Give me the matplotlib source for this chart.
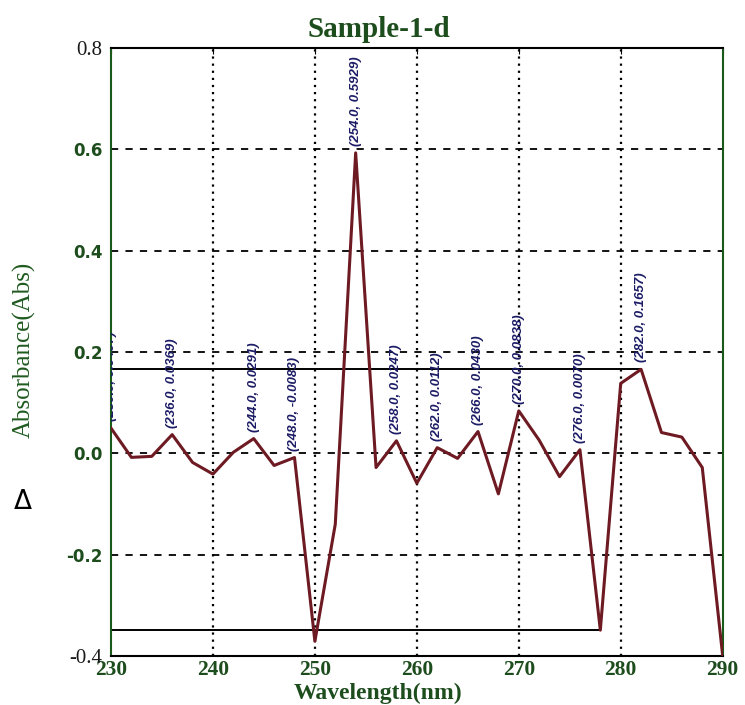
import matplotlib
matplotlib.use("Agg")
import matplotlib.pyplot as plt

wavelength = [230, 232, 234, 236, 238, 240, 242, 244, 246, 248, 250, 252, 254, 256, 258, 260,
              262, 264, 266, 268, 270, 272, 274, 276, 278, 280, 282, 284, 286, 288, 290]
absorbance = [0.0497, -0.008, -0.006, 0.0369, -0.018, -0.041, 0.002, 0.0291, -0.024, -0.0083,
              -0.371, -0.14, 0.5929, -0.028, 0.0247, -0.059, 0.0112, -0.010, 0.0430, -0.080,
              0.0838, 0.026, -0.046, 0.0070, -0.349, 0.138, 0.1657, 0.041, 0.032, -0.028, -0.399]
peak_x = [230, 236, 244, 248, 254, 258, 262, 266, 270, 276, 282]
peak_labels = ["(230.0, 0.0497)", "(236.0, 0.0369)", "(244.0, 0.0291)", "(248.0, -0.0083)",
               "(254.0, 0.5929)", "(258.0, 0.0247)", "(262.0, 0.0112)", "(266.0, 0.0430)",
               "(270.0, 0.0838)", "(276.0, 0.0070)", "(282.0, 0.1657)"]
hline_max = (0.1657, 230, 282)
hline_min = (-0.349, 230, 278)
xticks = [230, 240, 250, 260, 270, 280, 290]
yticks = [-0.4, -0.2, 0.0, 0.2, 0.4, 0.6, 0.8]
ytick_labels = ["-0.4", "-0.2", "0.0", "0.2", "0.4", "0.6", "0.8"]

green = "#1d4d1d"
navy = "#1c1c66"
maroon = "#6e1a22"

fig = plt.figure(figsize=(7.45, 7.05), dpi=100)
ax = fig.add_axes([0.149, 0.0695, 0.821, 0.8625])
ax.set_xlim(230, 290)
ax.set_ylim(-0.4, 0.8)

# grid
for yv in [-0.2, 0.0, 0.2, 0.4, 0.6]:
    ax.axhline(yv, color="black", lw=1.3, ls=(0, (4, 4)), zorder=1)
for xv in [240, 250, 260, 270, 280]:
    ax.axvline(xv, color="black", lw=1.6, ls=(0, (1, 2.2)), zorder=1)

# horizontal markers
ax.hlines(hline_max[0], hline_max[1], hline_max[2], color="black", lw=1.4, zorder=2)
ax.hlines(hline_min[0], hline_min[1], hline_min[2], color="black", lw=1.4, zorder=2)

ax.plot(wavelength, absorbance, color=maroon, lw=2.2, zorder=3)

lookup = dict(zip(wavelength, absorbance))
for px, lab in zip(peak_x, peak_labels):
    ax.annotate(lab, xy=(px, lookup[px]), xytext=(0, 5), textcoords="offset points",
                rotation=90, ha="center", va="bottom", fontsize=9.5, style="italic",
                fontweight="bold", family=["Liberation Sans Narrow", "Liberation Sans"],
                color=navy, zorder=4, clip_on=True)

ax.set_xticks(xticks)
ax.set_xticklabels([str(v) for v in xticks], family="Liberation Serif", fontsize=15.5,
                   fontweight="bold", color=green)
ax.set_yticks(yticks)
ax.set_yticklabels(ytick_labels, family="DejaVu Sans", fontsize=12, fontweight="bold", color=green)
for t in ax.get_yticklabels():
    if t.get_text() in ("0.8", "-0.4"):
        t.set_family("Liberation Serif")
        t.set_fontweight("normal")
        t.set_color("#1a1a1a")
        t.set_fontsize(15)
ax.tick_params(axis="y", length=0, pad=6)
ax.tick_params(axis="x", length=4, direction="in", top=True, bottom=False, pad=3)

ax.spines["left"].set_color("#1a5a1a")
ax.spines["right"].set_color("#1a5a1a")
for s in ax.spines.values():
    s.set_linewidth(1.5)

fig.text(0.509, 0.9475, "Sample-1-d", family="Liberation Serif", fontsize=21, fontweight="bold",
         color=green, ha="center", va="baseline")
fig.text(0.507, 0.008, "Wavelength(nm)", family="Liberation Serif", fontsize=17, fontweight="bold",
         color=green, ha="center", va="baseline")
fig.text(0.032, 0.504, "Absorbance(Abs)", rotation=90, family="Liberation Serif", fontsize=18,
         color="#1f5a1f", ha="center", va="center")
fig.text(0.031, 0.288, "Δ", family="DejaVu Sans", fontsize=19, color="black",
         ha="center", va="center")

fig.savefig("out.png", dpi=100)
